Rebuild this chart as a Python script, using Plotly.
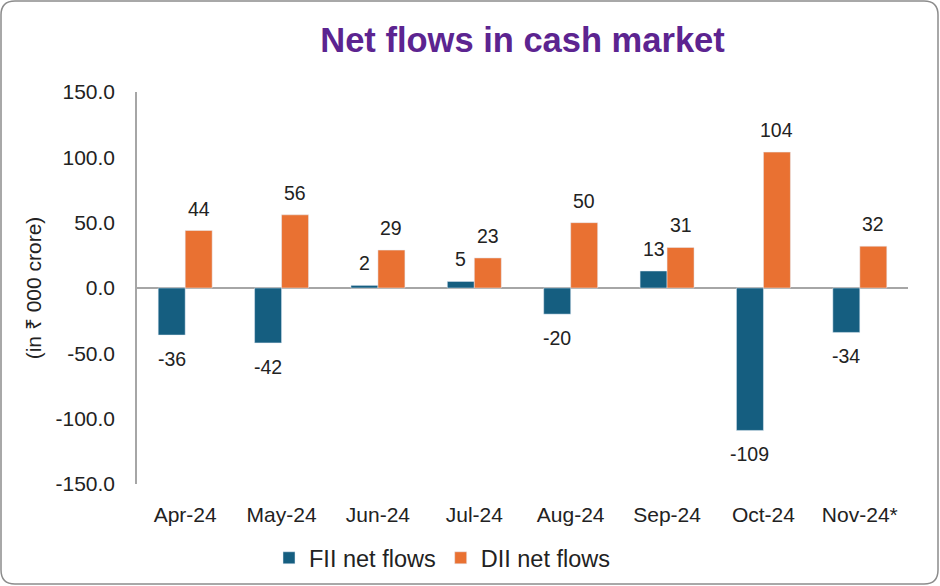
import plotly.graph_objects as go

months = ["Apr-24", "May-24", "Jun-24", "Jul-24", "Aug-24", "Sep-24", "Oct-24", "Nov-24*"]
fii = [-36, -42, 2, 5, -20, 13, -109, -34]
dii = [44, 56, 29, 23, 50, 31, 104, 32]
y_ticks = [-150, -100, -50, 0, 50, 100, 150]
y_tick_text = ["-150.0", "-100.0", "-50.0", "0.0", "50.0", "100.0", "150.0"]

W, H = 940, 586
L, R, T, B = 137, 32, 92, 102
pw, ph = W - L - R, H - T - B

def px(x):
    return (x - L) / pw

def py(y):
    return 1 - (y - T) / ph

font = "Liberation Sans, Arial, sans-serif"

fig = go.Figure()
fig.add_trace(go.Bar(x=months, y=fii, name="FII net flows", marker_color="#155E80"))
fig.add_trace(go.Bar(x=months, y=dii, name="DII net flows", marker_color="#E97132"))

# data labels
for series, xs in ((fii, -13.5), (dii, 13.5)):
    for m, v in zip(months, series):
        fig.add_annotation(x=m, y=v, text=str(v), showarrow=False, xshift=xs,
                           yshift=22 if v >= 0 else -24, yanchor="middle",
                           font=dict(size=19.5, color="#222", family=font))

# rounded border
x0, x1 = px(1), px(938)
y0, y1 = py(584), py(1)
rx, ry = 14 / pw, 14 / ph
path = (f"M {x0+rx},{y1} L {x1-rx},{y1} Q {x1},{y1} {x1},{y1-ry} "
        f"L {x1},{y0+ry} Q {x1},{y0} {x1-rx},{y0} L {x0+rx},{y0} "
        f"Q {x0},{y0} {x0},{y0+ry} L {x0},{y1-ry} Q {x0},{y1} {x0+rx},{y1} Z")
fig.add_shape(type="path", path=path, xref="paper", yref="paper",
              line=dict(color="#8C8C8C", width=1.5), layer="below")

fig.update_layout(
    width=W, height=H,
    margin=dict(l=L, r=R, t=T, b=B, autoexpand=False),
    paper_bgcolor="white", plot_bgcolor="white",
    font=dict(family=font, size=17, color="#222"),
    title=dict(text="<b>Net flows in cash market</b>", x=0.5, xref="paper",
               y=1 - 40 / H, yanchor="middle",
               font=dict(size=34.5, color="#5C2490", family=font)),
    barmode="group", bargap=0.44, bargroupgap=0,
    showlegend=True,
    legend=dict(orientation="h", x=px(442), xanchor="center", y=py(558), yanchor="middle",
                font=dict(size=23.5, family=font), itemwidth=30, traceorder="normal",
                bgcolor="rgba(0,0,0,0)"),
    xaxis=dict(showline=False, showgrid=False, ticks="", ticklabelstandoff=16,
               tickfont=dict(size=21, family=font), automargin=False),
    yaxis=dict(range=[-150, 150], tickvals=y_ticks, ticktext=y_tick_text,
               showgrid=False, zeroline=True, zerolinecolor="#A6A6A6", zerolinewidth=1.5,
               showline=True, linecolor="#A6A6A6", linewidth=1.5, ticks="",
               ticklabelstandoff=16, tickfont=dict(size=21), automargin=False,
               title=dict(text="(in ₹ 000 crore)", font=dict(size=21), standoff=8)),
)

fig.write_html("out.html", config={"displayModeBar": False},
               post_script="document.body.style.margin='0';document.body.style.padding='0';")
